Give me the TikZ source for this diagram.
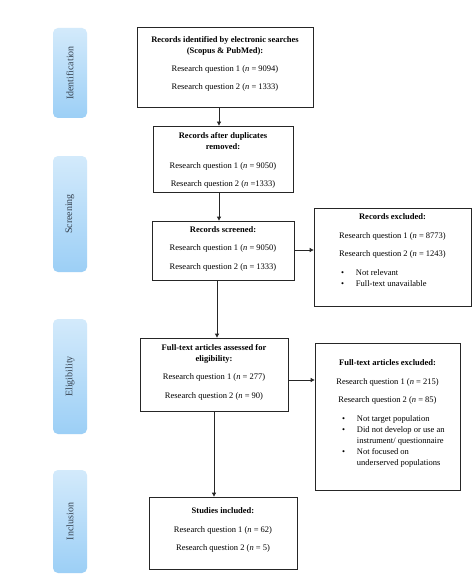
\documentclass[tikz,border=0pt]{standalone}
\usepackage{fontspec}
\setmainfont{Liberation Serif}
\usetikzlibrary{arrows.meta}
\definecolor{stagetop}{HTML}{D3EAFB}
\definecolor{stagebot}{HTML}{9CCFF6}
\definecolor{stagetext}{HTML}{364250}
\begin{document}
\begin{tikzpicture}[x=1pt,y=-1pt,
  box/.style={draw=black!85, line width=0.8pt, inner sep=0pt, fill=white, font=\fontsize{8.5}{11}\selectfont},
  stage/.style={rounded corners=5pt, top color=stagetop, bottom color=stagebot, draw=none,
    minimum width=34pt, inner sep=0pt, text=stagetext, font=\fontsize{10}{11}\selectfont},
  arr/.style={-{Triangle[length=4pt,width=4pt]}, line width=0.8pt, draw=black!85}]
\fill[white] (0,0) rectangle (474,575);
\useasboundingbox (0,0) rectangle (474,575);

% stage labels
\node[stage, minimum height=90pt]  (s1) at (70,73)    {\rotatebox{90}{Identification}};
\node[stage, minimum height=116pt] (s2) at (70,214)   {\rotatebox{90}{Screening}};
\node[stage, minimum height=115pt] (s3) at (70,376.5) {\rotatebox{90}{Eligibility}};
\node[stage, minimum height=103pt] (s4) at (70,521.5) {\rotatebox{90}{Inclusion}};

% main boxes
\node[box] (b1) at (225,67) {\parbox[c][80pt][t]{176pt}{\centering\vspace*{9.8pt}%
  \textbf{Records identified by electronic searches}\\
  \textbf{(Scopus \& PubMed):}\\[7pt]
  Research question 1 (\textit{n} = 9094)\\[7pt]
  Research question 2 (\textit{n} = 1333)}};

\node[box] (b2) at (223,159) {\parbox[c][66pt][t]{140pt}{\centering\vspace*{6.8pt}%
  \textbf{Records after duplicates}\\
  \textbf{removed:}\\[7.3pt]
  Research question 1 (\textit{n} = 9050)\\[7.3pt]
  Research question 2 (\textit{n} =1333)}};

\node[box] (b3) at (223,250.5) {\parbox[c][59pt][t]{142pt}{\centering\vspace*{5.8pt}%
  \textbf{Records screened:}\\[7.3pt]
  Research question 1 (\textit{n} = 9050)\\[7.3pt]
  Research question 2 (n = 1333)}};

\node[box] (exc1) at (392.5,257) {\parbox[c][98pt][t]{157pt}{\centering\vspace*{6.1pt}%
  \textbf{Records excluded:}\\[7.4pt]
  Research question 1 (\textit{n} = 8773)\\[7pt]
  Research question 2 (\textit{n} = 1243)\\[8pt]
  \makebox[103pt][l]{\begin{tabular}[t]{@{}l@{\hspace{12pt}}l@{}}
    \textbullet & Not relevant\\
    \textbullet & Full-text unavailable
  \end{tabular}}}};

\node[box] (b4) at (214,374.5) {\parbox[c][73pt][t]{148pt}{\centering\vspace*{6.1pt}%
  \textbf{Full-text articles assessed for}\\[0.4pt]
  \textbf{eligibility:}\\[7pt]
  Research question 1 (\textit{n} = 277)\\[7.6pt]
  Research question 2 (\textit{n} = 90)}};

\node[box] (exc2) at (387.5,416.5) {\parbox[c][147pt][t]{145pt}{\centering\vspace*{16.8pt}%
  \textbf{Full-text articles excluded:}\\[7.3pt]
  Research question 1 (\textit{n} = 215)\\[7.4pt]
  Research question 2 (\textit{n} = 85)\\[8pt]
  \makebox[91pt][l]{\begin{tabular}[t]{@{}l@{\hspace{12pt}}l@{}}
    \textbullet & Not target population\\
    \textbullet & Did not develop or use an\\
                & instrument/ questionnaire\\
    \textbullet & Not focused on\\
                & underserved populations
  \end{tabular}}}};

\node[box] (b5) at (223,533) {\parbox[c][72pt][t]{148pt}{\centering\vspace*{10.8pt}%
  \textbf{Studies included:}\\[7.3pt]
  Research question 1 (\textit{n} = 62)\\[7.4pt]
  Research question 2 (\textit{n} = 5)}};

% connectors
\draw[arr] (b1.south -| 219,0) -- (b2.north -| 219,0);
\draw[arr] (b2.south -| 219,0) -- (b3.north -| 219,0);
\draw[arr] (b3.south -| 217,0) -- (b4.north -| 217,0);
\draw[arr] (b4.south -| 214,0) -- (b5.north -| 214,0);
\draw[arr] (b3.east |- 0,250) -- (exc1.west |- 0,250);
\draw[arr] (b4.east |- 0,380) -- (exc2.west |- 0,380);
\end{tikzpicture}
\end{document}
